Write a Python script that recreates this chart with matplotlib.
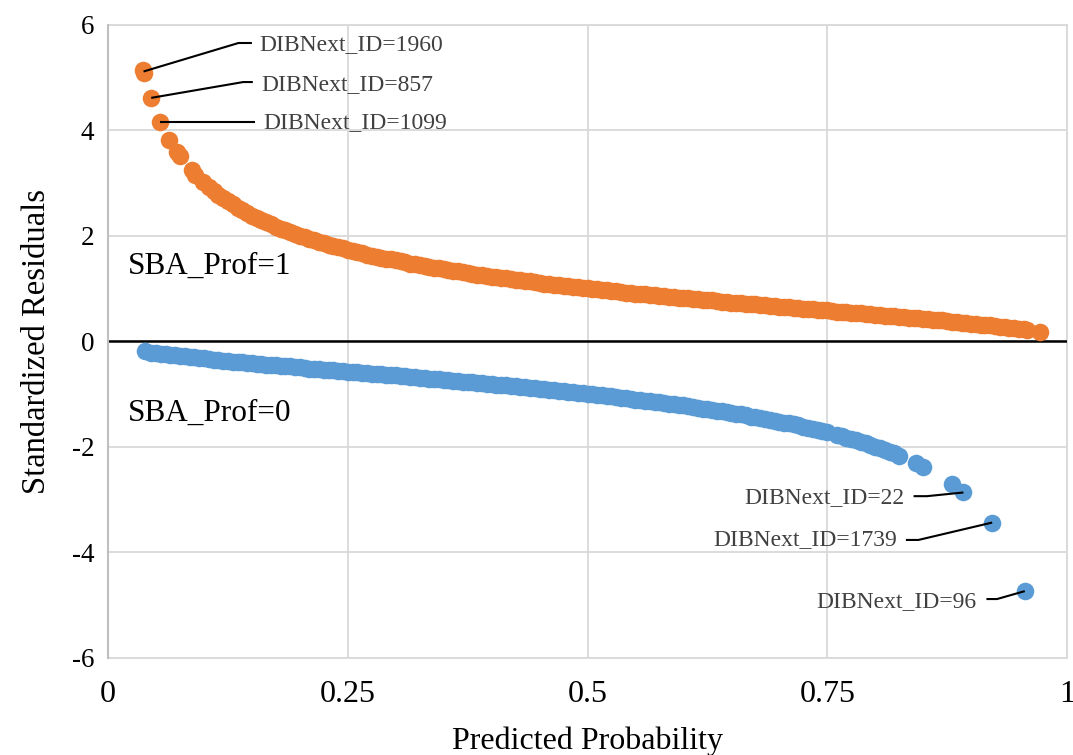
import matplotlib
matplotlib.use("Agg")
import matplotlib.pyplot as plt

plt.rcParams['font.family'] = ['Liberation Serif', 'DejaVu Serif']

# ---- data ----
prof1_prob = [0.036, 0.038, 0.045, 0.054, 0.064, 0.072, 0.075, 0.088, 0.091, 0.099,
              0.105, 0.110, 0.115, 0.120, 0.125, 0.130, 0.135, 0.140, 0.145, 0.150,
              0.155, 0.160, 0.165, 0.170, 0.175, 0.180, 0.185, 0.190, 0.195, 0.200,
              0.205, 0.210, 0.215, 0.220, 0.225, 0.230, 0.235, 0.240, 0.245, 0.250,
              0.255, 0.260, 0.265, 0.270, 0.275, 0.280, 0.285, 0.290, 0.295, 0.300,
              0.305, 0.310, 0.315, 0.320, 0.325, 0.330, 0.335, 0.340, 0.345, 0.350,
              0.355, 0.360, 0.365, 0.370, 0.375, 0.380, 0.385, 0.390, 0.395, 0.400,
              0.405, 0.410, 0.415, 0.420, 0.425, 0.430, 0.435, 0.440, 0.445, 0.450,
              0.455, 0.460, 0.465, 0.470, 0.475, 0.480, 0.485, 0.490, 0.495, 0.500,
              0.505, 0.510, 0.515, 0.520, 0.525, 0.530, 0.535, 0.540, 0.545, 0.550,
              0.555, 0.560, 0.565, 0.570, 0.575, 0.580, 0.585, 0.590, 0.595, 0.600,
              0.605, 0.610, 0.615, 0.620, 0.625, 0.630, 0.635, 0.640, 0.645, 0.650,
              0.655, 0.660, 0.665, 0.670, 0.675, 0.680, 0.685, 0.690, 0.695, 0.700,
              0.705, 0.710, 0.715, 0.720, 0.725, 0.730, 0.735, 0.740, 0.745, 0.750,
              0.755, 0.760, 0.765, 0.770, 0.775, 0.780, 0.785, 0.790, 0.795, 0.800,
              0.805, 0.810, 0.815, 0.820, 0.825, 0.830, 0.835, 0.840, 0.845, 0.850,
              0.855, 0.860, 0.865, 0.870, 0.875, 0.880, 0.885, 0.890, 0.895, 0.900,
              0.905, 0.910, 0.915, 0.920, 0.925, 0.930, 0.935, 0.940, 0.945, 0.950,
              0.955, 0.958, 0.972]
prof1_resid = [5.14, 5.08, 4.61, 4.15, 3.81, 3.58, 3.50, 3.24, 3.15, 3.01,
               2.92, 2.84, 2.77, 2.71, 2.65, 2.59, 2.53, 2.48, 2.43, 2.38,
               2.33, 2.29, 2.25, 2.21, 2.17, 2.13, 2.10, 2.06, 2.03, 2.00,
               1.97, 1.94, 1.91, 1.88, 1.86, 1.83, 1.80, 1.78, 1.76, 1.73,
               1.71, 1.69, 1.67, 1.64, 1.62, 1.60, 1.58, 1.56, 1.55, 1.53,
               1.51, 1.49, 1.47, 1.46, 1.44, 1.43, 1.41, 1.39, 1.38, 1.36,
               1.35, 1.33, 1.32, 1.31, 1.29, 1.28, 1.26, 1.25, 1.24, 1.22,
               1.21, 1.20, 1.19, 1.18, 1.16, 1.15, 1.14, 1.13, 1.12, 1.11,
               1.09, 1.08, 1.07, 1.06, 1.05, 1.04, 1.03, 1.02, 1.01, 1.00,
               0.99, 0.98, 0.97, 0.96, 0.95, 0.94, 0.93, 0.92, 0.91, 0.90,
               0.895, 0.89, 0.877, 0.87, 0.86, 0.85, 0.84, 0.83, 0.825, 0.82,
               0.81, 0.80, 0.79, 0.78, 0.775, 0.77, 0.76, 0.75, 0.74, 0.73,
               0.726, 0.72, 0.71, 0.70, 0.694, 0.69, 0.678, 0.67, 0.662, 0.65,
               0.647, 0.64, 0.631, 0.62, 0.616, 0.61, 0.60, 0.59, 0.585, 0.58,
               0.57, 0.56, 0.554, 0.55, 0.539, 0.53, 0.523, 0.52, 0.508, 0.50,
               0.492, 0.48, 0.476, 0.47, 0.461, 0.45, 0.445, 0.44, 0.428, 0.42,
               0.412, 0.40, 0.395, 0.39, 0.378, 0.37, 0.36, 0.35, 0.343, 0.33,
               0.324, 0.31, 0.305, 0.30, 0.285, 0.27, 0.264, 0.25, 0.241, 0.23,
               0.22, 0.21, 0.17]

prof0_prob = [0.039, 0.045, 0.050, 0.055, 0.060, 0.065, 0.070, 0.075, 0.080, 0.085,
              0.090, 0.095, 0.100, 0.105, 0.110, 0.115, 0.120, 0.125, 0.130, 0.135,
              0.140, 0.145, 0.150, 0.155, 0.160, 0.165, 0.170, 0.175, 0.180, 0.185,
              0.190, 0.195, 0.200, 0.205, 0.210, 0.215, 0.220, 0.225, 0.230, 0.235,
              0.240, 0.245, 0.250, 0.255, 0.260, 0.265, 0.270, 0.275, 0.280, 0.285,
              0.290, 0.295, 0.300, 0.305, 0.310, 0.315, 0.320, 0.325, 0.330, 0.335,
              0.340, 0.345, 0.350, 0.355, 0.360, 0.365, 0.370, 0.375, 0.380, 0.385,
              0.390, 0.395, 0.400, 0.405, 0.410, 0.415, 0.420, 0.425, 0.430, 0.435,
              0.440, 0.445, 0.450, 0.455, 0.460, 0.465, 0.470, 0.475, 0.480, 0.485,
              0.490, 0.495, 0.500, 0.505, 0.510, 0.515, 0.520, 0.525, 0.530, 0.535,
              0.540, 0.545, 0.550, 0.555, 0.560, 0.565, 0.570, 0.575, 0.580, 0.585,
              0.590, 0.595, 0.600, 0.605, 0.610, 0.615, 0.620, 0.625, 0.630, 0.635,
              0.640, 0.645, 0.650, 0.655, 0.660, 0.665, 0.670, 0.675, 0.680, 0.685,
              0.690, 0.695, 0.700, 0.705, 0.710, 0.715, 0.720, 0.725, 0.730, 0.735,
              0.740, 0.745, 0.750, 0.760, 0.765, 0.770, 0.775, 0.780, 0.785, 0.790,
              0.795, 0.800, 0.805, 0.810, 0.815, 0.820, 0.825,
              0.843, 0.850, 0.880, 0.892, 0.922, 0.956]
prof0_resid = [-0.19, -0.22, -0.23, -0.24, -0.25, -0.26, -0.27, -0.28, -0.29, -0.30,
               -0.31, -0.32, -0.33, -0.34, -0.35, -0.36, -0.37, -0.38, -0.39, -0.395,
               -0.40, -0.41, -0.42, -0.43, -0.44, -0.445, -0.45, -0.46, -0.47, -0.476,
               -0.48, -0.49, -0.50, -0.508, -0.52, -0.523, -0.53, -0.539, -0.55, -0.554,
               -0.56, -0.57, -0.58, -0.585, -0.59, -0.60, -0.61, -0.616, -0.62, -0.631,
               -0.64, -0.647, -0.65, -0.662, -0.67, -0.678, -0.69, -0.694, -0.70, -0.71,
               -0.72, -0.726, -0.73, -0.74, -0.75, -0.76, -0.77, -0.775, -0.78, -0.79,
               -0.80, -0.81, -0.82, -0.825, -0.83, -0.84, -0.85, -0.86, -0.87, -0.877,
               -0.89, -0.895, -0.90, -0.91, -0.92, -0.93, -0.94, -0.95, -0.96, -0.97,
               -0.98, -0.99, -1.00, -1.01, -1.02, -1.03, -1.04, -1.05, -1.06, -1.07,
               -1.08, -1.09, -1.11, -1.12, -1.13, -1.14, -1.15, -1.16, -1.18, -1.19,
               -1.20, -1.21, -1.22, -1.24, -1.25, -1.26, -1.28, -1.29, -1.31, -1.32,
               -1.33, -1.35, -1.36, -1.38, -1.39, -1.41, -1.43, -1.44, -1.46, -1.47,
               -1.49, -1.51, -1.53, -1.55, -1.56, -1.58, -1.60, -1.62, -1.64, -1.67,
               -1.69, -1.71, -1.73, -1.78, -1.80, -1.83, -1.86, -1.88, -1.91, -1.94,
               -1.97, -2.00, -2.03, -2.07, -2.10, -2.13, -2.17,
               -2.32, -2.38, -2.71, -2.87, -3.44, -4.74]

x_ticks = [0, 0.25, 0.5, 0.75, 1]
x_tick_labels = ["0", "0.25", "0.5", "0.75", "1"]
y_ticks = [-6, -4, -2, 0, 2, 4, 6]
y_tick_labels = ["-6", "-4", "-2", "0", "2", "4", "6"]

# labelled observations: (label, point x, point y, elbow x, elbow y, end x, text x, text y, ha)
callouts = [
    ("DIBNext_ID=1960", 0.037, 5.11, 0.136, 5.65, 0.150, 0.158, 5.62, "left"),
    ("DIBNext_ID=857", 0.045, 4.61, 0.141, 4.91, 0.151, 0.160, 4.86, "left"),
    ("DIBNext_ID=1099", 0.054, 4.15, 0.100, 4.15, 0.153, 0.162, 4.14, "left"),
    ("DIBNext_ID=22", 0.892, -2.87, 0.854, -2.94, 0.840, 0.831, -2.96, "right"),
    ("DIBNext_ID=1739", 0.922, -3.44, 0.845, -3.77, 0.832, 0.823, -3.77, "right"),
    ("DIBNext_ID=96", 0.956, -4.74, 0.927, -4.89, 0.916, 0.906, -4.94, "right"),
]

orange = "#ED7D31"
blue = "#5B9BD5"

fig = plt.figure(figsize=(10.73, 7.55), dpi=100)
ax = fig.add_axes([0.1007, 0.129, 0.8937, 0.8385])

ax.set_xlim(0, 1)
ax.set_ylim(-6, 6)
ax.set_xticks(x_ticks)
ax.set_xticklabels(x_tick_labels)
ax.set_yticks(y_ticks)
ax.set_yticklabels(y_tick_labels)

ax.grid(True, color="#d9d9d9", linewidth=1.3, zorder=0)
ax.set_axisbelow(True)
for s in ["top", "right", "bottom"]:
    ax.spines[s].set_visible(False)
ax.spines["left"].set_color("#bfbfbf")
ax.spines["left"].set_linewidth(1.5)
ax.axhline(0, color="black", linewidth=1.8, zorder=2)
ax.axhline(-6, color="#d9d9d9", linewidth=1.3, zorder=1, clip_on=False)
ax.axhline(6, color="#d9d9d9", linewidth=1.3, zorder=1, clip_on=False)
ax.axvline(1, color="#d9d9d9", linewidth=1.3, zorder=1, clip_on=False)

ax.tick_params(axis="both", length=0)
ax.tick_params(axis="x", labelsize=23, pad=16)
ax.tick_params(axis="y", labelsize=19.5, pad=10)

ax.scatter(prof1_prob, prof1_resid, s=160, color=orange, linewidths=0, zorder=3)
ax.scatter(prof0_prob, prof0_resid, s=160, color=blue, linewidths=0, zorder=3)

for lab, px, py, ex, ey, hx, tx, ty, ha in callouts:
    ax.plot([px, ex, hx], [py, ey, ey], color="black", linewidth=1.5, zorder=4,
            solid_capstyle="butt")
    ax.text(tx, ty, lab, ha=ha, va="center", fontsize=17, color="#404040", zorder=5)

ax.text(0.021, 1.42, "SBA_Prof=1", fontsize=22.5, color="black", va="center", ha="left")
ax.text(0.021, -1.36, "SBA_Prof=0", fontsize=22.5, color="black", va="center", ha="left")

ax.set_xlabel("Predicted Probability", fontsize=23, labelpad=13)
ax.set_ylabel("Standardized Residuals", fontsize=23.5, labelpad=14)

fig.savefig("out.png", dpi=100)
